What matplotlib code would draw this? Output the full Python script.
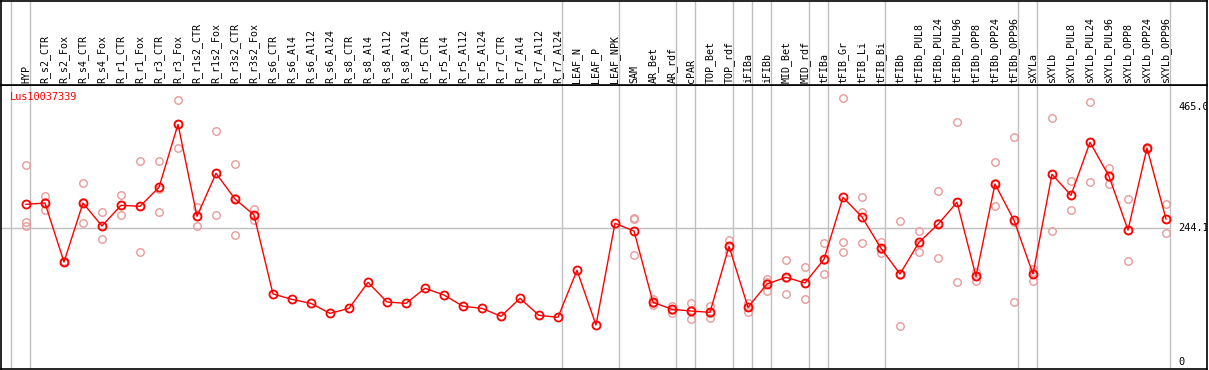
import numpy as np
import matplotlib
matplotlib.use("Agg")
import matplotlib.pyplot as plt
from matplotlib.transforms import blended_transform_factory

categories = ["HYP", "R_s2_CTR", "R_s2_Fox", "R_s4_CTR", "R_s4_Fox", "R_r1_CTR", "R_r1_Fox",
              "R_r3_CTR", "R_r3_Fox", "R_r1s2_CTR", "R_r1s2_Fox", "R_r3s2_CTR", "R_r3s2_Fox",
              "R_s6_CTR", "R_s6_Al4", "R_s6_Al12", "R_s6_Al24", "R_s8_CTR", "R_s8_Al4",
              "R_s8_Al12", "R_s8_Al24", "R_r5_CTR", "R_r5_Al4", "R_r5_Al12", "R_r5_Al24",
              "R_r7_CTR", "R_r7_Al4", "R_r7_Al12", "R_r7_Al24", "LEAF_N", "LEAF_P", "LEAF_NPK",
              "SAM", "AR_Bet", "AR_rdf", "cPAR", "TOP_Bet", "TOP_rdf", "iFIBa", "iFIBb",
              "MID_Bet", "MID_rdf", "tFIBa", "tFIB_Gr", "tFIB_Li", "tFIB_Bi", "tFIBb",
              "tFIBb_PUL8", "tFIBb_PUL24", "tFIBb_PUL96", "tFIBb_OPP8", "tFIBb_OPP24",
              "tFIBb_OPP96", "sXYLa", "sXYLb", "sXYLb_PUL8", "sXYLb_PUL24", "sXYLb_PUL96",
              "sXYLb_OPP8", "sXYLb_OPP24", "sXYLb_OPP96"]

mean_values = [287.2, 289.6, 182.1, 289.6, 247.7, 285.4, 283.6, 318.2, 432.9, 265.4, 343.7,
               296.9, 267.8, 123.9, 114.1, 106.8, 88.6, 97.7, 145.1, 109.3, 106.8, 134.2,
               122.0, 101.4, 97.7, 83.2, 116.0, 85.0, 81.4, 167.0, 67.4, 252.6, 238.6, 108.7,
               96.0, 92.9, 90.5, 210.7, 99.6, 142.1, 154.3, 143.9, 187.1, 300.0, 264.1, 207.1,
               160.3, 218.0, 250.8, 290.9, 156.1, 324.2, 258.1, 160.3, 341.9, 303.6, 400.2,
               338.3, 240.4, 389.8, 260.5]

nan = float("nan")
rep_a = [358.8, 301.8, 183.5, 325.5, 272.6, 303.6, 366.1, 366.1, 476.6, 282.3, 420.2, 360.1,
         278.7] + [nan] * 19 + [259.9, 114.8, 102.6, 106.8, 102.0, 222.2, 106.8, 151.2, 185.2,
         173.0, 216.2, 480.3, 300.0, 218.0, 256.8, 238.6, 310.9, 436.6, 164.5, 363.7, 409.3,
         169.4, 444.4, 329.7, 473.0, 352.8, 296.9, 391.0, 287.2]
rep_b = [255.6, 276.3, 181.5, 252.6, 223.4, 267.2, 199.8, 272.6, 389.2, 247.1, 267.2, 231.3,
         258.7] + [nan] * 19 + [194.3, 103.8, 89.9, 77.7, 79.6, 199.8, 91.6, 129.9, 123.9,
         114.8, 159.7, 218.0, 273.8, 198.0, 65.3, 199.8, 188.9, 145.1, 147.5, 283.6, 109.3,
         147.0, 238.6, 276.9, 327.3, 324.8, 183.4, 390.0, 234.4]
rep_c = [247.7, 290.7, 181.3, 290.7, 247.1, 285.4, 284.9, 315.9, 432.9, 266.8, 343.7, 299.3,
         265.9] + [nan] * 19 + [261.6, 107.5, 95.5, 94.2, 89.9, 210.1, 100.4, 145.2, 153.8,
         143.9, 185.4, 199.8, 216.2, 205.3, 158.5, 215.6, 252.6, 291.0, 156.3, 325.3, 255.7,
         164.5, 342.7, 304.2, 400.3, 337.3, 240.9, 388.4, 259.9]

# indices after which a group separator is drawn
separators_after = [-1, 0, 28, 31, 34, 35, 37, 38, 39, 41, 42, 45, 52, 53, 60]
ref_values = [465.0, 244.1, 0]
ref_labels = ["465.0", "244.1", "0"]
gene = "Lus10037339"

W, H = 1209, 370
fig = plt.figure(figsize=(W / 100, H / 100), dpi=100)
fig.patch.set_facecolor("white")

font = "DejaVu Sans Mono"
fs = 7.2
gray = "#c0c0c0"
pink = "#e89a9a"

step = 19.0
x0 = 26.0
px_left, px_right = 1.0, 1207.0
xlim = ((px_left - x0) / step, (px_right - x0) / step)
yscale = 0.549
ybase = 362.0
top_px, bot_px = 85.0, 369.0
ylim = ((ybase - bot_px) / yscale, (ybase - top_px) / yscale)

ax = fig.add_axes([px_left / W, (H - bot_px) / H, (px_right - px_left) / W, (bot_px - top_px) / H])
hx = fig.add_axes([px_left / W, (H - top_px) / H, (px_right - px_left) / W, (top_px - 0.5) / H])

for a in (ax, hx):
    a.set_xlim(*xlim)
    a.set_xticks([])
    a.set_yticks([])
    for s in a.spines.values():
        s.set_color("black")
        s.set_linewidth(1.2)
ax.set_ylim(*ylim)
hx.set_ylim(0, 1)

x = np.arange(len(categories))
sep_x = [i + 4 / step for i in separators_after]
for sx in sep_x:
    ax.axvline(sx, color=gray, lw=1.0, zorder=1)
    hx.axvline(sx, color=gray, lw=1.0, zorder=1)

ax.hlines(ref_values[1], xlim[0], sep_x[-1], color=gray, lw=1.0, zorder=1)

for reps in (rep_a, rep_b, rep_c):
    ax.plot(x, reps, linestyle="none", marker="o", ms=5.4, mfc="none", mec=pink,
            mew=1.0, zorder=2)

ax.plot(x, mean_values, color="red", lw=1.0, marker="o", ms=5.8, mfc="none", mec="red",
        mew=1.3, zorder=3)

trans = blended_transform_factory(ax.transAxes, ax.transData)
for v, lab in zip(ref_values, ref_labels):
    ax.text((1178 - px_left) / (px_right - px_left), v, lab, transform=trans, ha="left",
            va="center", fontsize=fs + 0.2, family=font, color="black", clip_on=True)

ax.text((10 - px_left) / (px_right - px_left), (ybase - 97) / yscale, gene,
        transform=trans, ha="left", va="center", fontsize=fs + 0.2, family=font, color="red")

htrans = blended_transform_factory(hx.transData, hx.transAxes)
for xi, lab in zip(x, categories):
    hx.text(xi, 2.0 / top_px, lab, transform=htrans, rotation=90, ha="center", va="bottom",
            fontsize=fs, family=font, color="black")

fig.savefig("out.png", dpi=100, facecolor="white")
